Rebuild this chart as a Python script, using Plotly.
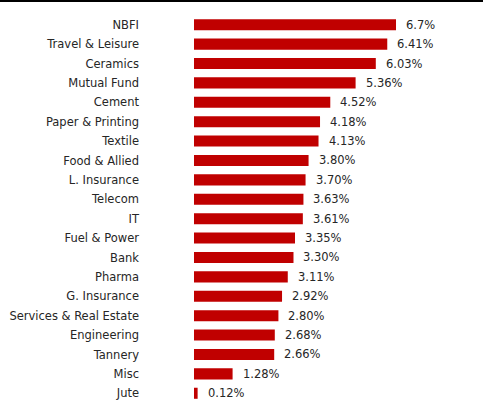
import plotly.graph_objects as go

categories = ["NBFI", "Travel & Leisure", "Ceramics", "Mutual Fund", "Cement",
              "Paper & Printing", "Textile", "Food & Allied", "L. Insurance", "Telecom",
              "IT", "Fuel & Power", "Bank", "Pharma", "G. Insurance",
              "Services & Real Estate", "Engineering", "Tannery", "Misc", "Jute"]
values = [6.7, 6.41, 6.03, 5.36, 4.52, 4.18, 4.13, 3.80, 3.70, 3.63,
          3.61, 3.35, 3.30, 3.11, 2.92, 2.80, 2.68, 2.66, 1.28, 0.12]
value_labels = ["6.7%", "6.41%", "6.03%", "5.36%", "4.52%", "4.18%", "4.13%", "3.80%",
                "3.70%", "3.63%", "3.61%", "3.35%", "3.30%", "3.11%", "2.92%", "2.80%",
                "2.68%", "2.66%", "1.28%", "0.12%"]

W, H = 483, 402
ML, MR, MT, MB = 194, 0, 15, 0
plot_w = W - ML - MR
plot_h = H - MT - MB
px_per_unit = 30.15
FONT = "DejaVu Sans"
TXT = "#262626"

fig = go.Figure()
fig.add_trace(go.Bar(
    x=values, y=categories, orientation="h",
    marker=dict(color="#C00000", line=dict(width=0)),
    width=0.57, hoverinfo="skip",
))

for c, v, t in zip(categories, values, value_labels):
    fig.add_annotation(x=v, y=c, text=t, showarrow=False, xanchor="left",
                       yanchor="middle", xshift=8,
                       font=dict(family=FONT, size=11.5, color=TXT))

y_top = (plot_h + MT - 1.0) / plot_h
fig.add_shape(type="line", xref="paper", yref="paper",
              x0=-ML / plot_w, x1=1.0, y0=y_top, y1=y_top,
              line=dict(color="#000000", width=2))

fig.update_layout(
    width=W, height=H,
    margin=dict(l=ML, r=MR, t=MT, b=MB, pad=0),
    paper_bgcolor="white", plot_bgcolor="white",
    showlegend=False,
    font=dict(family=FONT, size=11.5, color=TXT),
    xaxis=dict(range=[0, plot_w / px_per_unit], visible=False, fixedrange=True),
    yaxis=dict(categoryorder="array", categoryarray=categories,
               range=[19.45, -0.5], showgrid=False, zeroline=False, showline=False,
               ticks="", ticklabelstandoff=54, fixedrange=True,
               tickfont=dict(family=FONT, size=11.5, color=TXT)),
)

fig.write_html("out.html", config={"displayModeBar": False},
               post_script="document.body.style.margin='0';document.body.style.overflow='hidden';"
                           "document.documentElement.style.overflow='hidden';window.scrollTo(0,0);")
